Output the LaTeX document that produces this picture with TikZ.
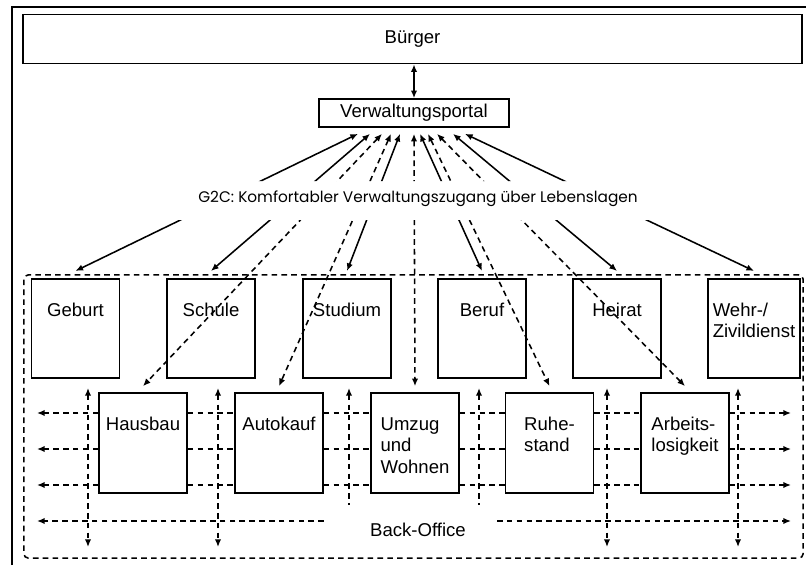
\documentclass[tikz,border=0pt]{standalone}
\usepackage{fontspec}
\setmainfont{Liberation Sans}
\newfontfamily\gtcfont{Poppins}
\usetikzlibrary{positioning, calc, arrows.meta}

% text of a life-situation box, set from the top
\newcommand{\lagetext}[2]{\vbox to #1{\vskip 0.55cm\hbox{\begin{tabular}[t]{@{}l@{}}#2\end{tabular}}\vfil}}

\begin{document}
\begin{tikzpicture}[x=0.025cm, y=-0.025cm,
    font=\fontsize{13.2}{15.3}\selectfont,
    line width=1.1pt,
    >={Latex[length=1.9mm, width=1.6mm]},
    box/.style={draw, line width=1.2pt},
    lagebox/.style={box, inner sep=0pt, minimum width=2.2cm},
    bolink/.style={dash pattern=on 4pt off 3pt},
    g2clink/.style={<->},
    g2cdash/.style={<->, bolink}
]
\useasboundingbox (0,0) rectangle (806,565);

% outer frame
\draw[line width=1.2pt] (12,565) -- (12,7) -- (806,7);

% ============ TOP: citizen and portal ============
\node[box, minimum width=19.475cm, minimum height=1.225cm] (buerger) at (412.5,39) {Bürger};
\node[box, minimum width=4.75cm, minimum height=0.7cm] (portal) at (414,113) {Verwaltungsportal};
\draw[<->] (portal.north) -- (portal.north |- buerger.south);

\node[font=\gtcfont\fontsize{10.9}{12}\selectfont] (g2c) at (418,199)
  {G2C: Komfortabler Verwaltungszugang über Lebenslagen};

% ============ BACK-OFFICE ============
\node[draw, bolink, rounded corners=3pt, minimum width=19.475cm, minimum height=7.075cm] (bo) at (413.5,416.5) {};
\node (botext) at (418,530) {Back-Office};

% Upper row
\node[lagebox] (geburt)  at (75.5,328.5) {\lagetext{2.475cm}{Geburt}};
\node[lagebox] (schule)  at (211,328.5)  {\lagetext{2.475cm}{Schule}};
\node[lagebox] (studium) at (347,328.5)  {\lagetext{2.475cm}{Studium}};
\node[lagebox] (beruf)   at (482,328.5)  {\lagetext{2.475cm}{Beruf}};
\node[lagebox] (heirat)  at (617,328.5)  {\lagetext{2.475cm}{Heirat}};
\node[lagebox, minimum width=2.3cm] (wehr) at (754,328.5) {\lagetext{2.475cm}{Wehr-/\\Zivildienst}};

% Lower row
\node[lagebox] (hausbau)  at (143,443)   {\lagetext{2.5cm}{Hausbau}};
\node[lagebox] (autokauf) at (279,443)   {\lagetext{2.5cm}{Autokauf}};
\node[lagebox] (umzug)    at (415,443)   {\lagetext{2.5cm}{Umzug\\und\\Wohnen}};
\node[lagebox] (ruhe)     at (549.5,443) {\lagetext{2.5cm}{Ruhe-\\stand}};
\node[lagebox] (arbeit)   at (685,443)   {\lagetext{2.5cm}{Arbeits-\\losigkeit}};

% Portal links, broken by the G2C line
\begin{scope}
  \clip (0,0) rectangle (806,181) (0,220) rectangle (806,565);
  \draw[g2clink] ([xshift=-1.4cm, yshift=-0.15cm]portal.south)  -- ([yshift=0.18cm]geburt.north);
  \draw[g2clink] ([xshift=-1.1cm, yshift=-0.15cm]portal.south)  -- ([yshift=0.18cm]schule.north);
  \draw[g2cdash] ([xshift=-0.8cm, yshift=-0.15cm]portal.south)  -- ([yshift=0.15cm]hausbau.north);
  \draw[g2cdash] ([xshift=-0.575cm, yshift=-0.15cm]portal.south) -- ([yshift=0.15cm]autokauf.north);
  \draw[g2clink] ([xshift=-0.35cm, yshift=-0.15cm]portal.south) -- ([yshift=0.18cm]studium.north);
  \draw[g2cdash] ([yshift=-0.15cm]portal.south)                 -- ([yshift=0.15cm]umzug.north);
  \draw[g2clink] ([xshift=0.15cm, yshift=-0.15cm]portal.south)  -- ([yshift=0.18cm]beruf.north);
  \draw[g2cdash] ([xshift=0.35cm, yshift=-0.15cm]portal.south)  -- ([yshift=0.15cm]ruhe.north);
  \draw[g2cdash] ([xshift=0.575cm, yshift=-0.15cm]portal.south) -- ([yshift=0.15cm]arbeit.north);
  \draw[g2clink] ([xshift=0.975cm, yshift=-0.15cm]portal.south) -- ([yshift=0.18cm]heirat.north);
  \draw[g2clink] ([xshift=1.275cm, yshift=-0.15cm]portal.south) -- ([yshift=0.18cm]wehr.north);
\end{scope}

% Back-office rows
\coordinate (r1) at (0,413);
\coordinate (r2) at (0,449);
\coordinate (r3) at (0,485);
\coordinate (r4) at (0,521);
\coordinate (lend) at (37,0);
\coordinate (rend) at (791,0);
\foreach \r in {r1,r2,r3} {
  \draw[bolink,->] (hausbau.west |- \r) -- (lend |- \r);
  \draw[bolink] (hausbau.east |- \r) -- (autokauf.west |- \r);
  \draw[bolink] (autokauf.east |- \r) -- (umzug.west |- \r);
  \draw[bolink] (umzug.east |- \r) -- (ruhe.west |- \r);
  \draw[bolink] (ruhe.east |- \r) -- (arbeit.west |- \r);
  \draw[bolink,->] (arbeit.east |- \r) -- (rend |- \r);
}
\coordinate (bo4r) at (497,521);
\draw[bolink,->] (autokauf.east |- r4) -- (lend |- r4);
\draw[bolink,->] (bo4r) -- (rend |- r4);

% Back-office verticals
\foreach \x [count=\i] in {88,218,607,738} {
  \coordinate (vt\i) at (\x,388);
  \coordinate (vb\i) at (\x,547);
  \draw[bolink,<->] (vt\i) -- (vb\i);
}
\foreach \x [count=\i] in {349,479} {
  \coordinate (wt\i) at (\x,388);
  \coordinate (wb\i) at (\x,505);
  \draw[bolink,<-] (wt\i) -- (wb\i);
}

\end{tikzpicture}
\end{document}
